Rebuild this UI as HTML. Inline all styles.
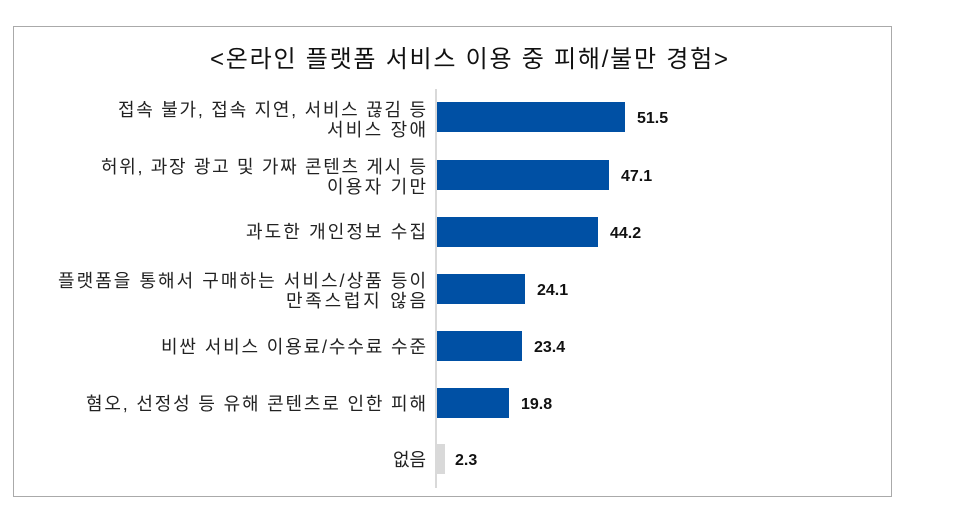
<!DOCTYPE html>
<html><head><meta charset="utf-8"><style>
html,body{margin:0;padding:0;background:#fff;width:960px;height:509px;overflow:hidden}
svg{display:block}
text{font-family:"Liberation Sans","Noto Sans CJK KR","NanumGothic",sans-serif}
</style></head><body>
<svg width="960" height="509" xmlns="http://www.w3.org/2000/svg">
<rect x="13.5" y="26.5" width="878" height="470" fill="none" stroke="#555" stroke-width="1" stroke-dasharray="1,1"/>
<text x="210" y="67" font-size="24" fill="#111" textLength="518" lengthAdjust="spacing">&lt;온라인 플랫폼 서비스 이용 중 피해/불만 경험&gt;</text>
<line x1="436" y1="89" x2="436" y2="488" stroke="#d9d9d9" stroke-width="2"/>
<g font-size="18" fill="#222" text-anchor="end" lengthAdjust="spacing">
<text x="426" y="116" textLength="308">접속 불가, 접속 지연, 서비스 끊김 등</text>
<text x="426" y="136" textLength="99">서비스 장애</text>
<text x="426" y="173" textLength="325">허위, 과장 광고 및 가짜 콘텐츠 게시 등</text>
<text x="426" y="193" textLength="99">이용자 기만</text>
<text x="426" y="238" textLength="180">과도한 개인정보 수집</text>
<text x="426" y="287" textLength="368">플랫폼을 통해서 구매하는 서비스/상품 등이</text>
<text x="426" y="307" textLength="140">만족스럽지 않음</text>
<text x="426" y="353" textLength="265">비싼 서비스 이용료/수수료 수준</text>
<text x="426" y="410" textLength="340">혐오, 선정성 등 유해 콘텐츠로 인한 피해</text>
<text x="426" y="466" textLength="33">없음</text>
</g>
<g fill="#0050a4">
<rect x="437" y="102" width="188" height="30"/>
<rect x="437" y="160" width="172" height="30"/>
<rect x="437" y="217" width="161" height="30"/>
<rect x="437" y="274" width="88" height="30"/>
<rect x="437" y="331" width="85" height="30"/>
<rect x="437" y="388" width="72" height="30"/>
</g>
<rect x="437" y="444" width="8" height="30" fill="#d9d9d9"/>
<g font-size="16" font-weight="bold" fill="#111">
<text x="637" y="123">51.5</text>
<text x="621" y="181">47.1</text>
<text x="610" y="238">44.2</text>
<text x="537" y="295">24.1</text>
<text x="534" y="352">23.4</text>
<text x="521" y="409">19.8</text>
<text x="455" y="465">2.3</text>
</g>
</svg>
</body></html>
